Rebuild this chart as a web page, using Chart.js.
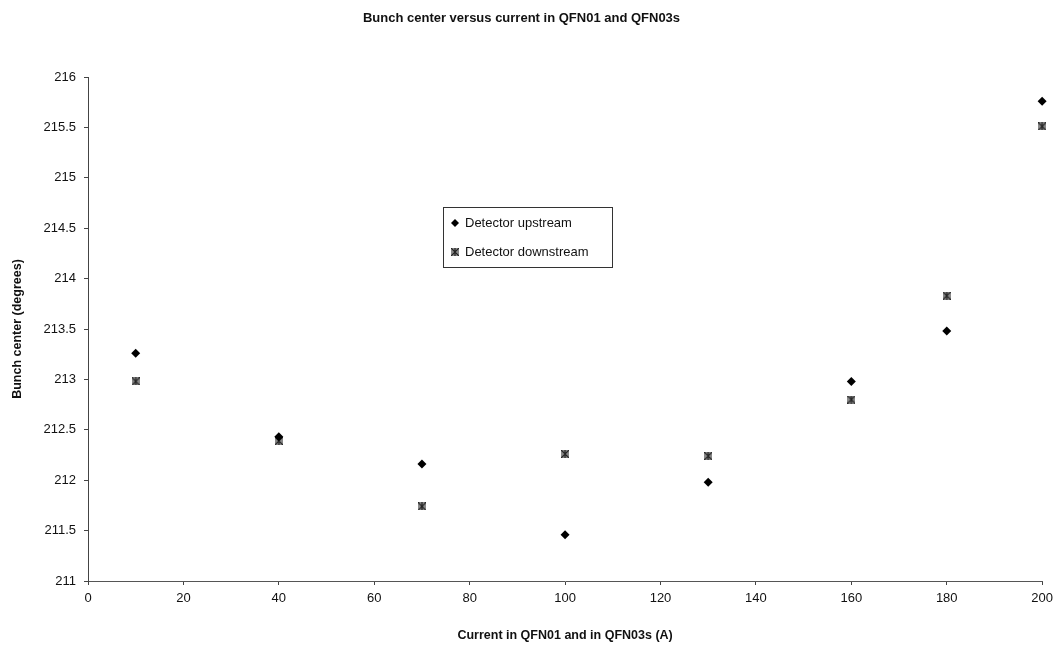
<!DOCTYPE html>
<html>
<head>
<meta charset="utf-8">
<script src="https://cdn.jsdelivr.net/npm/chart.js@4/dist/chart.umd.min.js"></script>
<style>
  html, body { margin: 0; padding: 0; background: #fff; }
  #wrap { width: 1059px; height: 647px; position: relative; }
</style>
</head>
<body>
<div id="wrap"><canvas id="chart" width="1059" height="647"></canvas></div>
<script>
const currents = [10, 40, 70, 100, 130, 160, 180, 200];
const upstream = [213.26, 212.43, 212.16, 211.46, 211.98, 212.98, 213.48, 215.76];
const downstream = [212.98, 212.39, 211.74, 212.26, 212.24, 212.80, 213.83, 215.51];
const seriesNames = ['Detector upstream', 'Detector downstream'];

const FONT = '"Liberation Sans", Arial, sans-serif';

// hatched marker for the downstream detector
function makeHatch() {
  const c = document.createElement('canvas');
  c.width = 8; c.height = 8;
  const g = c.getContext('2d');
  g.fillStyle = '#8a8a8a';
  g.fillRect(0, 0, 8, 8);
  g.strokeStyle = '#222';
  g.lineWidth = 1.2;
  g.beginPath();
  g.moveTo(0, 0); g.lineTo(8, 8);
  g.moveTo(8, 0); g.lineTo(0, 8);
  g.moveTo(4, 0); g.lineTo(4, 8);
  g.stroke();
  return c;
}
const hatch = makeHatch();

const pts = ys => currents.map((x, i) => ({ x: x, y: ys[i] }));

const boxLegend = {
  id: 'boxLegend',
  afterDraw(chart) {
    const ctx = chart.ctx;
    const a = chart.chartArea;
    const left = a.left + 355, top = a.top + 130, w = 169, h = 60;
    ctx.save();
    ctx.fillStyle = '#fff';
    ctx.fillRect(left, top, w, h);
    ctx.strokeStyle = '#333';
    ctx.lineWidth = 1;
    ctx.strokeRect(left + 0.5, top + 0.5, w, h);
    ctx.font = '13px ' + FONT;
    ctx.textBaseline = 'middle';
    chart.data.datasets.forEach((ds, i) => {
      const y = top + 16 + i * 29;
      ctx.fillStyle = '#000';
      Chart.helpers.drawPoint(ctx, {
        pointStyle: ds.pointStyle, radius: 4, rotation: 0, borderWidth: 0
      }, left + 12, y);
      ctx.fillStyle = '#111';
      ctx.fillText(ds.label, left + 22, y);
    });
    ctx.restore();
  }
};

new Chart(document.getElementById('chart'), {
  type: 'scatter',
  data: {
    datasets: [{
      label: seriesNames[0],
      data: pts(upstream),
      pointStyle: 'rectRot',
      pointRadius: 4.5,
      backgroundColor: '#000',
      borderColor: '#000',
      borderWidth: 0,
      clip: false
    }, {
      label: seriesNames[1],
      data: pts(downstream),
      pointStyle: hatch,
      backgroundColor: '#666',
      borderColor: '#666',
      clip: false
    }]
  },
  options: {
    responsive: false,
    animation: false,
    layout: { padding: { left: 0, right: 16, top: 0, bottom: 0 } },
    plugins: {
      legend: { display: false },
      tooltip: { enabled: false },
      title: {
        display: true,
        text: 'Bunch center versus current in QFN01 and QFN03s',
        color: '#111',
        font: { family: FONT, size: 13, weight: 'bold' },
        padding: { top: 11, bottom: 50.4 }
      }
    },
    scales: {
      x: {
        type: 'linear',
        min: 0, max: 200,
        afterFit: s => { s.height = 66; },
        ticks: { stepSize: 20, color: '#111', font: { family: FONT, size: 13 }, padding: 6 },
        grid: { drawOnChartArea: false, tickLength: 4, color: '#444' },
        border: { color: '#555', dash: [9, 3, 2, 3] },
        title: {
          display: true,
          text: 'Current in QFN01 and in QFN03s (A)',
          color: '#111',
          font: { family: FONT, size: 12.5, weight: 'bold' },
          padding: { top: 8 }
        }
      },
      y: {
        min: 211, max: 216,
        afterFit: s => { s.width = 88; },
        ticks: {
          stepSize: 0.5, color: '#111', font: { family: FONT, size: 13 }, padding: 8,
          callback: v => String(v)
        },
        grid: { drawOnChartArea: false, tickLength: 4, color: '#444' },
        border: { color: '#444' },
        title: {
          display: true,
          text: 'Bunch center (degrees)',
          color: '#111',
          font: { family: FONT, size: 12.5, weight: 'bold' },
          padding: { top: 10, bottom: 4 }
        }
      }
    }
  },
  plugins: [boxLegend]
});
</script>
</body>
</html>
